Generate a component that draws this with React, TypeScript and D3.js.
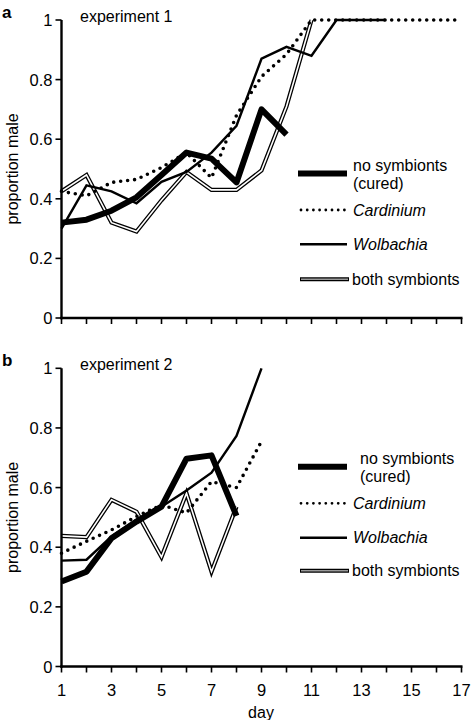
import React from "react";
import * as d3 from "d3";

const yTicks = [0, 0.2, 0.4, 0.6, 0.8, 1];
const yTickLabels = ["0", "0.2", "0.4", "0.6", "0.8", "1"];
const xTicks = [1, 2, 3, 4, 5, 6, 7, 8, 9, 10, 11, 12, 13, 14, 15, 16, 17];
const xTickLabels = ["1", "3", "5", "7", "9", "11", "13", "15", "17"];

// experiment 1 (values from day 1)
const cured1 = [0.32, 0.33, 0.36, 0.405, 0.48, 0.555, 0.535, 0.455, 0.7, 0.615];
const card1 = [0.425, 0.41, 0.455, 0.465, 0.505, 0.555, 0.47, 0.68, 0.81, 0.885, 1, 1, 1, 1, 1, 1, 1];
const wolb1 = [0.3, 0.445, 0.425, 0.385, 0.457, 0.49, 0.555, 0.645, 0.87, 0.91, 0.88, 1, 1, 1];
const both1 = [0.425, 0.48, 0.32, 0.29, 0.395, 0.49, 0.43, 0.43, 0.495, 0.71, 1.0];

// experiment 2
const cured2 = [0.285, 0.318, 0.43, 0.486, 0.536, 0.697, 0.708, 0.505];
const card2 = [0.38, 0.42, 0.458, 0.503, 0.542, 0.515, 0.62, 0.6, 0.755];
const wolb2 = [0.355, 0.358, 0.436, 0.492, 0.536, 0.59, 0.65, 0.773, 1.0];
const both2 = [0.438, 0.434, 0.559, 0.519, 0.367, 0.581, 0.318, 0.536];

const FONT = "'Liberation Sans', Arial, Helvetica, sans-serif";

const x = d3.scaleLinear().domain([1, 17]).range([61.5, 461.5]);

type PanelProps = {
  y0: number;
  y1: number;
  label: string;
  title: string;
  cured: number[];
  card: number[];
  wolb: number[];
  both: number[];
  showXLabels: boolean;
  legendYs: number[];
  legendTextX0: number;
};

function Panel(p: PanelProps) {
  const y = d3.scaleLinear().domain([0, 1]).range([p.y0, p.y1]);
  const line = d3
    .line<number>()
    .x((_, i) => x(i + 1))
    .y((v) => y(v));
  const axisX0 = x(1);
  const [lc, lcard, lw, lb] = p.legendYs;
  return (
    <g>
      <text x={2} y={p.y1 - 8} fontFamily={FONT} fontWeight="bold" fontSize={17} dominantBaseline="central">
        {p.label}
      </text>
      <text x={80} y={p.y1 - 4} fontFamily={FONT} fontSize={16} dominantBaseline="central">
        {p.title}
      </text>
      <text
        transform={`translate(12,${(p.y0 + p.y1) / 2}) rotate(-90)`}
        textAnchor="middle"
        dominantBaseline="central"
        fontFamily={FONT}
        fontSize={16}
      >
        proportion male
      </text>
      {/* series */}
      <path d={line(p.both) || ""} fill="none" stroke="#000" strokeWidth={4.2} strokeLinejoin="miter" />
      <path d={line(p.both) || ""} fill="none" stroke="#fff" strokeWidth={1.6} strokeLinejoin="miter" />
      <path d={line(p.wolb) || ""} fill="none" stroke="#000" strokeWidth={2.4} />
      <path
        d={line(p.card) || ""}
        fill="none"
        stroke="#000"
        strokeWidth={3.6}
        strokeDasharray="0 7"
        strokeLinecap="round"
      />
      <path d={line(p.cured) || ""} fill="none" stroke="#000" strokeWidth={6} strokeLinejoin="round" />
      {/* axes */}
      <line x1={axisX0} x2={axisX0} y1={y(1)} y2={y(0) + 1.2} stroke="#000" strokeWidth={2.4} />
      <line x1={axisX0 - 1.2} x2={x(17) + 1} y1={y(0)} y2={y(0)} stroke="#000" strokeWidth={2.4} />
      {yTicks.map((t, i) => (
        <g key={"y" + i}>
          <line x1={axisX0 - 6} x2={axisX0} y1={y(t)} y2={y(t)} stroke="#000" strokeWidth={1.6} />
          <text
            x={axisX0 - 9}
            y={y(t)}
            textAnchor="end"
            dominantBaseline="central"
            fontFamily={FONT}
            fontSize={16.5}
          >
            {yTickLabels[i]}
          </text>
        </g>
      ))}
      {xTicks.map((t) => (
        <line key={"x" + t} x1={x(t)} x2={x(t)} y1={y(0)} y2={y(0) + 6} stroke="#000" strokeWidth={1.6} />
      ))}
      {p.showXLabels &&
        xTickLabels.map((s) => (
          <text
            key={"xl" + s}
            x={x(+s)}
            y={y(0) + 23}
            textAnchor="middle"
            dominantBaseline="central"
            fontFamily={FONT}
            fontSize={16.5}
          >
            {s}
          </text>
        ))}
      {/* legend */}
      <g fontFamily={FONT} fontSize={16}>
        <line x1={298} x2={347} y1={lc} y2={lc} stroke="#000" strokeWidth={6} />
        <text x={p.legendTextX0} y={lc - 8} dominantBaseline="central">no symbionts</text>
        <text x={p.legendTextX0} y={lc + 10} dominantBaseline="central">(cured)</text>
        <line
          x1={301}
          x2={345}
          y1={lcard}
          y2={lcard}
          stroke="#000"
          strokeWidth={2.8}
          strokeDasharray="0 6.2"
          strokeLinecap="round"
        />
        <text x={353} y={lcard} dominantBaseline="central" fontStyle="italic">Cardinium</text>
        <line x1={300} x2={347} y1={lw} y2={lw} stroke="#000" strokeWidth={2.4} />
        <text x={353} y={lw} dominantBaseline="central" fontStyle="italic">Wolbachia</text>
        <line x1={300} x2={349} y1={lb} y2={lb} stroke="#000" strokeWidth={4} />
        <line x1={301} x2={348} y1={lb} y2={lb} stroke="#999" strokeWidth={1.6} />
        <text x={352} y={lb} dominantBaseline="central">both symbionts</text>
      </g>
    </g>
  );
}

export default function App() {
  return (
    <svg
      width={472}
      height={720}
      viewBox="0 0 472 720"
      style={{ position: "absolute", left: 0, top: 0, background: "#fff" }}
    >
      <rect x={0} y={0} width={472} height={720} fill="#fff" />
      <Panel
        y0={318}
        y1={20}
        label="a"
        title="experiment 1"
        cured={cured1}
        card={card1}
        wolb={wolb1}
        both={both1}
        showXLabels={false}
        legendYs={[173.5, 210, 244.3, 279.3]}
        legendTextX0={353}
      />
      <Panel
        y0={666.5}
        y1={368.3}
        label="b"
        title="experiment 2"
        cured={cured2}
        card={card2}
        wolb={wolb2}
        both={both2}
        showXLabels={true}
        legendYs={[466.7, 503.3, 537.7, 570.7]}
        legendTextX0={360}
      />
      <text x={261} y={712} textAnchor="middle" dominantBaseline="central" fontFamily={FONT} fontSize={16}>
        day
      </text>
    </svg>
  );
}
